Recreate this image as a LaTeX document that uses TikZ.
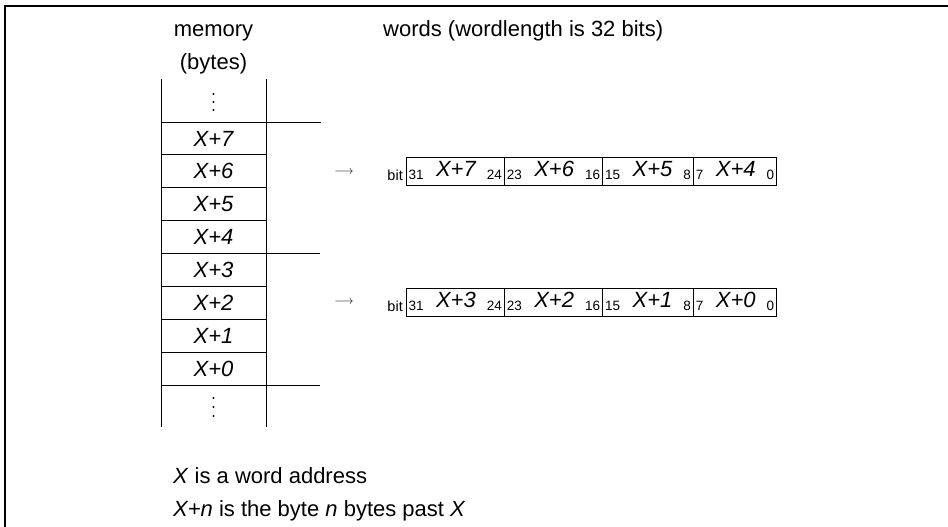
\documentclass[tikz,border=0pt]{standalone}
\usepackage{fontspec}
\setmainfont{Liberation Sans}
\newcommand\bigf{\fontsize{22}{26}\selectfont}
\newcommand\smallf{\fontsize{13.5}{15}\selectfont}
\newcommand\wordcell[3]{\raisebox{-3pt}{\smallf #1}\hspace{12.5pt}{\bigf\itshape X+#2}\hspace{11pt}\raisebox{-3pt}{\smallf #3}\hspace{5.5pt}}
\begin{document}
\begin{tikzpicture}[x=1pt,y=-1pt,
  cell/.style={draw, line width=1pt, minimum width=105pt, minimum height=32.875pt, inner sep=0pt, outer sep=0pt, font=\bigf\itshape},
  wbox/.style={draw, line width=1pt, text height=17pt, text depth=7pt, inner xsep=2.5pt, inner ysep=2pt, outer sep=0pt, anchor=base west},
  lbl/.style={font=\bigf, inner sep=0pt},
  small/.style={font=\smallf, inner sep=0pt},
  rule/.style={line width=1pt},
  dot/.style={fill, circle, inner sep=0pt, minimum size=2.4pt}
]
\useasboundingbox (0,0) rectangle (948,527);
% frame
\draw[line width=2pt] (5,527) -- (5,6) -- (948,6);

% headers
\node[lbl, anchor=base] (mem) at (213.5,37) {memory};
\node[lbl, anchor=base] (byt) at (213.5,70) {(bytes)};
\node[lbl, anchor=base west] (words) at (383,37) {words (wordlength is 32 bits)};

% memory cells
\foreach \i/\t in {0/7,1/6,2/5,3/4,4/3,5/2,6/1,7/0}
  \node[cell] (c\t) at (213.5,{122+32.875*(\i+0.5)}) {X+\t};

% column extension above and below
\coordinate (topL) at (161,79);
\coordinate (topR) at (266,79);
\coordinate (botL) at (161,427);
\coordinate (botR) at (266,427);
\draw[rule] (c7.north west) -- (topL);
\draw[rule] (c7.north east) -- (topR);
\draw[rule] (c0.south west) -- (botL);
\draw[rule] (c0.south east) -- (botR);

% word boundary marks
\coordinate (e1) at (321,122);
\coordinate (e2) at (320,253.5);
\coordinate (e3) at (320,385);
\draw[rule] (c7.north east) -- (e1);
\draw[rule] (c4.south east) -- (e2);
\draw[rule] (c0.south east) -- (e3);

% ellipses
\foreach \y [count=\k] in {94,102,110} \node[dot] (ta\k) at (213.5,\y) {};
\foreach \y [count=\k] in {398,407,416} \node[dot] (tb\k) at (213.5,\y) {};

% arrows
\node[inner sep=0pt] (ar1) at (344,172) {\fontsize{11.5}{13}\selectfont$\longrightarrow$};
\node[inner sep=0pt] (ar2) at (344,302) {\fontsize{11.5}{13}\selectfont$\longrightarrow$};

% word rows
\node[wbox] (w1a) at (406,176) {\wordcell{31}{7}{24}};
\node[wbox] (w1b) at (w1a.base east) {\wordcell{23}{6}{16}};
\node[wbox] (w1c) at (w1b.base east) {\wordcell{15}{5}{8}};
\node[wbox] (w1d) at (w1c.base east) {\wordcell{7}{4}{0}};
\node[small, anchor=base east, font=\fontsize{14.5}{16}\selectfont] (bit1) at (403,180) {bit};

\node[wbox] (w2a) at (406,307) {\wordcell{31}{3}{24}};
\node[wbox] (w2b) at (w2a.base east) {\wordcell{23}{2}{16}};
\node[wbox] (w2c) at (w2b.base east) {\wordcell{15}{1}{8}};
\node[wbox] (w2d) at (w2c.base east) {\wordcell{7}{0}{0}};
\node[small, anchor=base east, font=\fontsize{14.5}{16}\selectfont] (bit2) at (403,311) {bit};

% notes
\node[lbl, anchor=base west] (n1) at (173,483) {\textit{X} is a word address};
\node[lbl, anchor=base west] (n2) at (173,516) {\textit{X+n} is the byte \textit{n} bytes past \textit{X}};
\end{tikzpicture}
\end{document}
